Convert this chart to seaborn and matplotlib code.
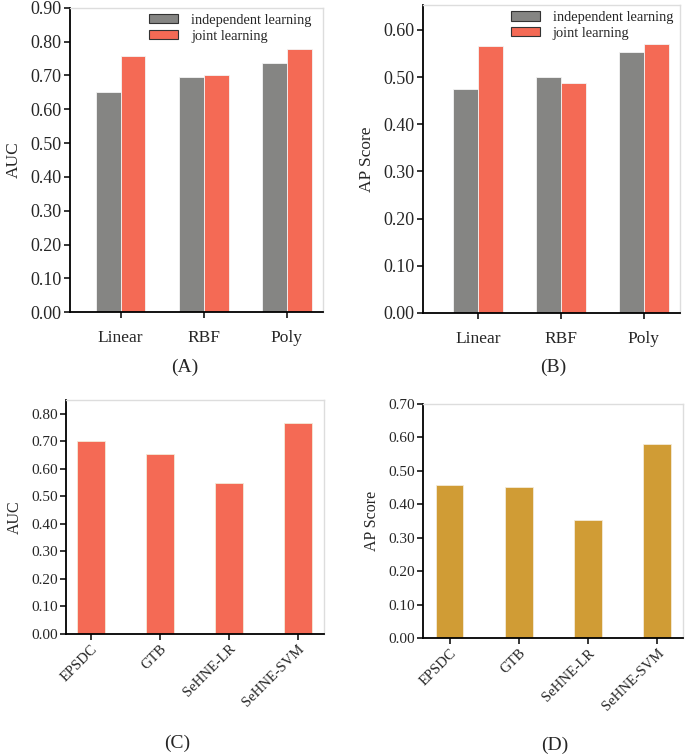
import numpy as np
import matplotlib
matplotlib.use('Agg')
import matplotlib.pyplot as plt
import seaborn as sns
import pandas as pd

#%% data

kernels = ["Linear", "RBF", "Poly"]
modes = ["independent learning", "joint learning"]

auc_indep = [0.651, 0.695, 0.738]
auc_joint = [0.758, 0.701, 0.778]

ap_indep = [0.474, 0.500, 0.554]
ap_joint = [0.567, 0.488, 0.570]

methods = ["EPSDC", "GTB", "SeHNE-LR", "SeHNE-SVM"]
method_auc = [0.702, 0.655, 0.550, 0.767]
method_ap = [0.457, 0.452, 0.354, 0.579]

#%%
sns.set_theme(style="white")
plt.rcParams['font.family'] = ['Liberation Serif', 'DejaVu Serif']
plt.rcParams['font.size'] = 10

gray = '#858583'
red = '#F46A55'
gold = '#D09C35'

fig = plt.figure(figsize=(6.85, 7.56), dpi=100)
axA = fig.add_axes([0.102, 0.587, 0.370, 0.4027])
axB = fig.add_axes([0.6175, 0.586, 0.3752, 0.4074])
axC = fig.add_axes([0.0964, 0.1614, 0.3766, 0.3096])
axD = fig.add_axes([0.6175, 0.156, 0.3795, 0.3096])


def style_axes(ax, ylabel, ysize, ticksize):
    for s in ['left', 'bottom']:
        ax.spines[s].set_color('black')
        ax.spines[s].set_linewidth(1.3)
    for s in ['top', 'right']:
        ax.spines[s].set_color('#dddddd')
        ax.spines[s].set_linewidth(1.0)
    ax.tick_params(axis='both', which='both', direction='out', length=4,
                   width=1.1, color='black', labelsize=ticksize, pad=2,
                   left=True, bottom=True)
    ax.set_xlabel('')
    ax.set_ylabel(ylabel, fontsize=ysize, labelpad=6)
    ax.grid(False)


def paired(ax, indep, joint, ylim, yticks, ylabel, xlim, legpad):
    df = pd.DataFrame({
        "kernel": kernels * 2,
        "mode": [modes[0]] * 3 + [modes[1]] * 3,
        "value": indep + joint,
    })
    sns.barplot(data=df, x="kernel", y="value", hue="mode", order=kernels,
                hue_order=modes, palette=[gray, red], width=0.6,
                saturation=1, edgecolor='#f4f4f4', linewidth=0.6,
                errorbar=None, ax=ax)
    ax.set_ylim(*ylim)
    ax.set_xlim(*xlim)
    ax.set_yticks(yticks)
    ax.set_yticklabels(['%.2f' % t for t in yticks])
    style_axes(ax, ylabel, 12.5, 13)
    ax.tick_params(axis='x', labelsize=12.5, pad=9)
    leg = ax.legend(loc='upper right', frameon=False, fontsize=10.4,
                    handlelength=2.0, handleheight=0.65, handletextpad=0.9,
                    labelspacing=0.2, borderpad=0.3, borderaxespad=0,
                    bbox_to_anchor=(1.0 - legpad, 0.995))
    for h in leg.legend_handles:
        h.set_edgecolor('#333333')
        h.set_linewidth(0.8)


def single(ax, vals, color, ylim, yticks, ylabel, xlim):
    df = pd.DataFrame({"method": methods, "value": vals})
    sns.barplot(data=df, x="method", y="value", order=methods, color=color,
                width=0.4, saturation=1, edgecolor='#f4ead8', linewidth=0.6,
                errorbar=None, ax=ax)
    ax.set_ylim(*ylim)
    ax.set_xlim(*xlim)
    ax.set_yticks(yticks)
    ax.set_yticklabels(['%.2f' % t for t in yticks])
    style_axes(ax, ylabel, 11.5, 11)
    ax.set_xticks(range(len(methods)))
    ax.set_xticklabels(methods, rotation=45, ha='right', rotation_mode='anchor',
                       fontsize=10.5)


paired(axA, auc_indep, auc_joint, (0, 0.9), np.arange(0, 0.91, 0.1), "AUC",
       (-0.61, 2.44), 0.03)
paired(axB, ap_indep, ap_joint, (0, 0.653), np.arange(0, 0.61, 0.1),
       "AP Score", (-0.665, 2.435), 0.01)
single(axC, method_auc, red, (0, 0.851), np.arange(0, 0.81, 0.1), "AUC",
       (-0.36, 3.38))
single(axD, method_ap, gold, (0, 0.70), np.arange(0, 0.71, 0.1), "AP Score",
       (-0.385, 3.375))

fig.text(185 / 685, 1 - 367 / 756, "(A)", ha='center', va='center', fontsize=14)
fig.text(553 / 685, 1 - 367 / 756, "(B)", ha='center', va='center', fontsize=14)
fig.text(177 / 685, 1 - 743 / 756, "(C)", ha='center', va='center', fontsize=14)
fig.text(555 / 685, 1 - 745 / 756, "(D)", ha='center', va='center', fontsize=14)

fig.savefig('out.png', dpi=100)
